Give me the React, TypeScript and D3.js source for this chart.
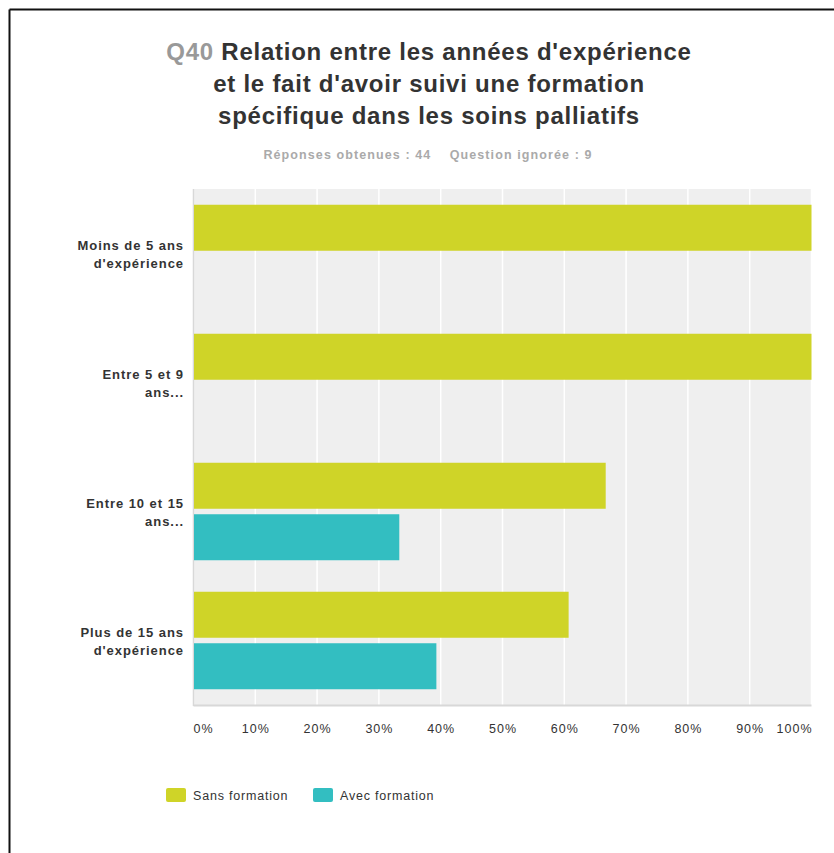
import React from "react";
import * as d3 from "d3";

const categories = [
  ["Moins de 5 ans", "d'expérience"],
  ["Entre 5 et 9", "ans..."],
  ["Entre 10 et 15", "ans..."],
  ["Plus de 15 ans", "d'expérience"],
];
const seriesNames = ["Sans formation", "Avec formation"];
const sansFormation = [100, 100, 66.7, 60.7];
const avecFormation = [0, 0, 33.3, 39.3];
const colors = ["#cfd428", "#33bec1"];
const ticks = [0, 10, 20, 30, 40, 50, 60, 70, 80, 90, 100];

const W = 834;
const H = 853;
const plot = { left: 193.5, right: 811.5, top: 189, bottom: 705 };
const font = "Arial, 'Liberation Sans', Helvetica, sans-serif";

export default function App() {
  const x = d3.scaleLinear().domain([0, 100]).range([plot.left, plot.right]);
  const y = d3
    .scaleBand<number>()
    .domain(d3.range(categories.length))
    .range([plot.top, plot.bottom]);
  const bandH = y.bandwidth();
  const barH = 46;
  const gap = 5.5;
  const topPad = (bandH - 2 * barH - gap) / 2;
  const series = [sansFormation, avecFormation];

  return (
    <svg
      width={W}
      height={H}
      style={{ position: "absolute", left: 0, top: 0, display: "block" }}
      fontFamily={font}
    >
      <rect x={0} y={0} width={W} height={H} fill="#fff" />
      <line x1={9.5} y1={9.5} x2={W} y2={9.5} stroke="#111" strokeWidth={2} />
      <line x1={9.5} y1={9.5} x2={9.5} y2={H} stroke="#111" strokeWidth={2} />

      <g fontWeight="bold" fontSize={24} textAnchor="middle" fill="#333" letterSpacing={0.75}>
        <text x={429} y={60}>
          <tspan fill="#999">Q40</tspan> Relation entre les années d'expérience
        </text>
        <text x={429} y={92}>et le fait d'avoir suivi une formation</text>
        <text x={429} y={124}>spécifique dans les soins palliatifs</text>
      </g>
      <text
        x={428}
        y={159}
        textAnchor="middle"
        fontSize={12.5}
        fontWeight="bold"
        fill="#aaa"
        letterSpacing={1.1}
        style={{ whiteSpace: "pre" }}
      >
        {"Réponses obtenues : 44    Question ignorée : 9"}
      </text>

      <rect
        x={plot.left}
        y={plot.top}
        width={plot.right - plot.left}
        height={plot.bottom - plot.top}
        fill="#efefef"
      />
      {ticks.map((t) => (
        <line
          key={t}
          x1={x(t)}
          x2={x(t)}
          y1={plot.top}
          y2={plot.bottom}
          stroke="#fff"
          strokeWidth={1.5}
        />
      ))}
      <line
        x1={plot.left}
        x2={plot.left}
        y1={plot.top}
        y2={plot.bottom + 1}
        stroke="#d8d8d8"
        strokeWidth={1.5}
      />
      <line
        x1={plot.left}
        x2={plot.right}
        y1={plot.bottom + 0.5}
        y2={plot.bottom + 0.5}
        stroke="#d8d8d8"
        strokeWidth={2}
      />

      {categories.map((c, i) =>
        series.map((s, j) =>
          s[i] > 0 ? (
            <rect
              key={`${i}-${j}`}
              x={x(0) + 0.5}
              y={(y(i) as number) + topPad + j * (barH + gap)}
              width={x(s[i]) - x(0) - 0.5}
              height={barH}
              fill={colors[j]}
            />
          ) : null
        )
      )}

      <g fontSize={13} fontWeight="bold" fill="#333" textAnchor="end" letterSpacing={0.95}>
        {categories.map((c, i) => {
          const cy = (y(i) as number) + bandH / 2;
          return (
            <text key={i}>
              <tspan x={184} y={cy - 4}>
                {c[0]}
              </tspan>
              <tspan x={184} y={cy + 14}>
                {c[1]}
              </tspan>
            </text>
          );
        })}
      </g>

      <g fontSize={12.5} fill="#333" letterSpacing={1}>
        {ticks.map((t, i) => (
          <text
            key={t}
            x={i === ticks.length - 1 ? x(t) + 1 : i === 0 ? x(t) : x(t) + 0.5}
            y={733}
            textAnchor={i === 0 ? "start" : i === ticks.length - 1 ? "end" : "middle"}
          >
            {t}%
          </text>
        ))}
      </g>

      {seriesNames.map((n, j) => {
        const lx = 166 + j * 147;
        return (
          <g key={n}>
            <rect x={lx} y={788} width={20} height={14} rx={2} fill={colors[j]} />
            <text x={lx + 27} y={800} fontSize={12.5} fill="#333" letterSpacing={0.8}>
              {n}
            </text>
          </g>
        );
      })}
    </svg>
  );
}
